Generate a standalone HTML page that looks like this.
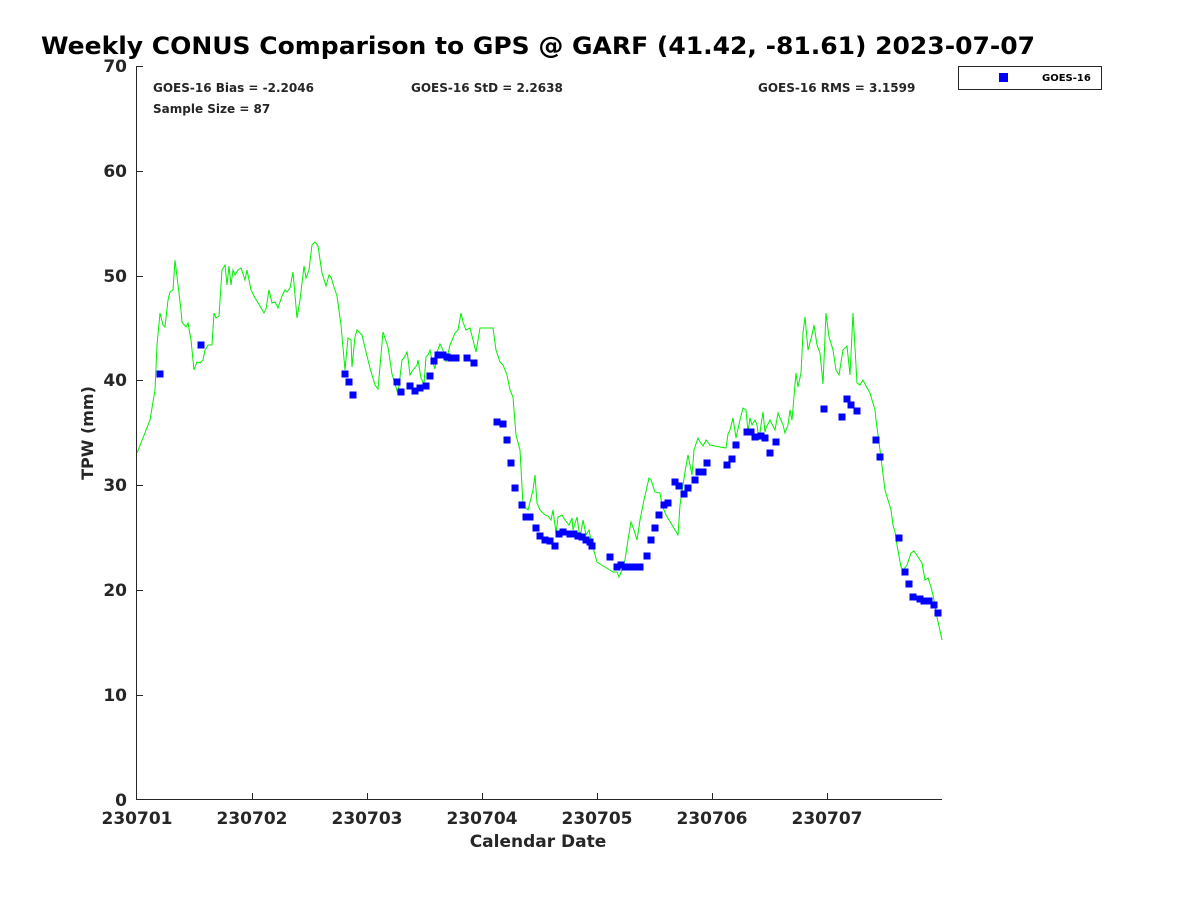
<!DOCTYPE html>
<html><head><meta charset="utf-8"><style>
body{margin:0;background:#fff;}
svg text{font-family:"DejaVu Sans","Liberation Sans",sans-serif;font-weight:bold;fill:#262626;}
</style></head><body>
<svg width="1200" height="900" xmlns="http://www.w3.org/2000/svg">
<rect width="1200" height="900" fill="#fff"/>
<text x="41" y="54" font-size="24" textLength="994" lengthAdjust="spacingAndGlyphs" style="fill:#000">Weekly CONUS Comparison to GPS @ GARF (41.42, -81.61) 2023-07-07</text>
<g stroke="#262626" stroke-width="1" fill="none">
<line x1="136.5" y1="66" x2="136.5" y2="800"/>
<line x1="136" y1="799.5" x2="942" y2="799.5"/>
<path d="M137 695.5h6M137 590.5h6M137 485.5h6M137 380.5h6M137 276.5h6M137 171.5h6M137 66.5h6"/>
<path d="M252.5 800v-7M367.5 800v-7M482.5 800v-7M597.5 800v-7M712.5 800v-7M827.5 800v-7"/>
</g>
<g font-size="17" text-anchor="end">
<text x="127" y="806">0</text><text x="127" y="701">10</text><text x="127" y="596">20</text><text x="127" y="491">30</text><text x="127" y="386">40</text><text x="127" y="282">50</text><text x="127" y="177">60</text><text x="127" y="72">70</text>
</g>
<g font-size="17" text-anchor="middle">
<text x="137" y="824">230701</text><text x="252" y="824">230702</text><text x="367" y="824">230703</text><text x="482" y="824">230704</text><text x="597" y="824">230705</text><text x="712" y="824">230706</text><text x="827" y="824">230707</text>
<text x="538" y="847">Calendar Date</text>
</g>
<text transform="translate(93,433) rotate(-90)" font-size="16" text-anchor="middle">TPW (mm)</text>
<g font-size="12" style="fill:#000">
<text x="153" y="92">GOES-16 Bias = -2.2046</text>
<text x="411" y="92">GOES-16 StD = 2.2638</text>
<text x="758" y="92">GOES-16 RMS = 3.1599</text>
<text x="153" y="113">Sample Size = 87</text>
</g>
<rect x="958.5" y="66.5" width="143" height="23" fill="#fff" stroke="#262626"/>
<rect x="999" y="73" width="9" height="9" fill="#0000ff"/>
<text x="1042" y="81" font-size="10" style="fill:#000">GOES-16</text>
<polyline fill="none" stroke="#00ee00" stroke-width="1" points="137,453 150,420 155,390 157,345 160,313 163,325 165,327 168,300 170,292 173,290 175,260 178,285 181,310 182,322 186,327 188,323 191,340 194,370 197,362 200,363 203,360 205,350 208,345 212,345 214,313 216,318 219,316 222,270 225,265 227,285 229,266 231,285 233,270 235,275 238,270 241,268 245,280 247,270 251,290 255,298 260,306 264,313 266,309 269,290 272,303 275,302 278,308 282,296 285,290 287,292 290,288 293,272 297,318 300,300 304,266 306,278 309,270 312,245 315,242 318,246 322,273 326,286 329,275 331,277 334,287 337,296 341,325 345,370 348,338 351,340 352,367 355,337 357,330 362,335 366,352 370,368 375,385 378,389 383,332 388,347 392,374 398,394 402,360 404,358 407,352 408,358 410,375 413,370 417,365 418,360 421,378 424,384 426,357 428,355 430,350 432,360 435,369 437,352 440,344 443,350 446,362 450,345 455,333 458,330 461,313 463,322 466,330 470,328 473,340 476,352 480,328 493,328 496,350 500,362 503,365 507,375 510,390 513,397 516,435 520,450 523,505 528,510 533,490 535,475 537,503 540,510 545,515 548,516 551,520 553,510 556,533 558,517 562,515 565,520 569,525 572,518 573,530 577,517 580,538 583,520 586,535 589,530 591,540 597,562 603,566 610,570 613,572 617,572 619,577 622,570 625,560 628,540 631,522 634,530 637,540 640,520 644,500 647,487 649,478 651,480 655,492 660,493 662,505 666,515 672,525 678,535 680,505 685,472 688,455 692,475 694,450 698,438 700,442 703,446 706,440 710,445 720,447 726,448 728,434 730,430 733,418 736,438 740,420 743,408 746,410 748,432 750,418 752,425 755,420 757,425 759,440 761,425 763,412 765,432 766,428 770,420 775,430 778,413 783,425 785,433 788,425 790,410 792,420 796,373 798,387 801,373 803,333 805,317 808,350 812,335 814,325 817,345 820,353 823,384 826,313 829,337 833,350 836,370 839,375 843,350 847,346 850,375 853,313 857,383 860,385 863,380 866,386 870,393 872,400 875,410 876,420 880,450 885,490 888,500 891,510 893,525 895,532 897,545 901,567 903,570 907,565 911,553 914,551 918,557 922,563 925,580 928,578 931,587 933,595 937,617 942,640"/>
<g fill="#0000ff" id="pts"></g>
</svg>
<script>
var p=[[160,374],[201,345],[345,374],[349,382],[353,395],[397,382],[401,392],[410,386],[415,391],[420,388],[426,386],[430,376],[434,361],[438,355],[443,355],[447,357],[451,358],[456,358],[467,358],[474,363],[497,422],[503,424],[507,440],[511,463],[515,488],[522,505],[526,517],[530,517],[536,528],[540,536],[545,540],[550,541],[555,546],[559,534],[563,532],[570,534],[574,534],[578,536],[582,537],[586,540],[590,542],[592,546],[610,557],[617,567],[621,565],[625,567],[629,567],[633,567],[637,567],[640,567],[647,556],[651,540],[655,528],[659,515],[664,505],[668,503],[675,482],[679,486],[684,494],[688,488],[695,480],[699,472],[703,472],[707,463],[727,465],[732,459],[736,445],[747,432],[751,432],[755,437],[761,436],[765,438],[770,453],[776,442],[824,409],[842,417],[847,399],[851,405],[857,411],[876,440],[880,457],[899,538],[905,572],[909,584],[913,597],[920,599],[924,601],[929,601],[934,605],[938,613]];
var g=document.getElementById('pts'),s='';
p.forEach(function(a){s+='<rect x="'+(a[0]-3.5)+'" y="'+(a[1]-3.5)+'" width="7" height="7"/>';});
g.innerHTML=s;
</script>
</body></html>
